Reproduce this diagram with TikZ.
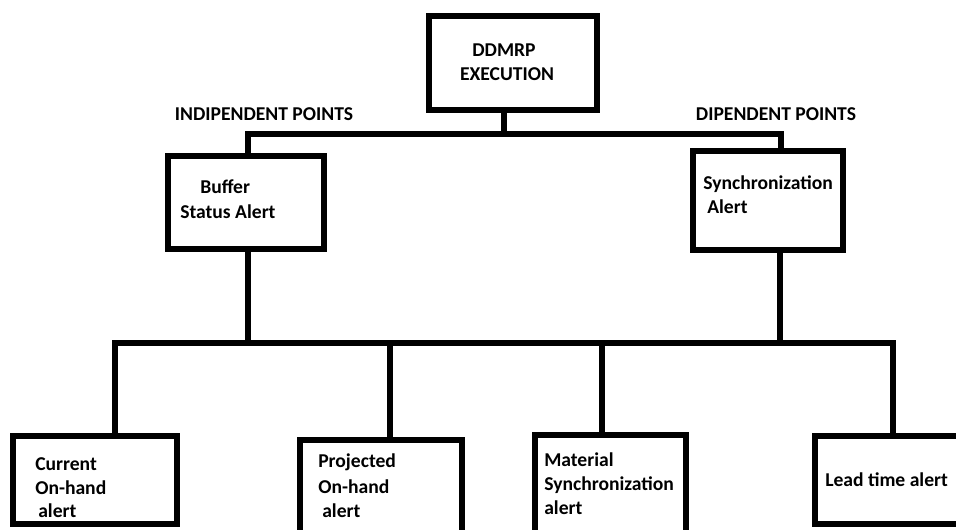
\documentclass[tikz,border=0pt]{standalone}
\usepackage{fontspec}
\setmainfont{Carlito}
\begin{document}
\begin{tikzpicture}[x=0.75pt,y=-0.75pt,
  box/.style={draw=black,line width=4.6pt,rectangle,inner sep=0pt,fill=none},
  wire/.style={draw=black,line width=4.6pt,line join=miter,line cap=rect},
  lbl/.style={inner sep=0pt,anchor=base west,font=\fontsize{14.7}{17}\selectfont\bfseries},
  clbl/.style={inner sep=0pt,anchor=base,font=\fontsize{14.7}{17}\selectfont\bfseries}]
\clip (0,0) rectangle (956,530);
\fill[white] (0,0) rectangle (956,530);
% boxes
\node[box,minimum width=168*0.75pt,minimum height=94*0.75pt] (top) at (513,63) {};
\node[box,minimum width=156*0.75pt,minimum height=93*0.75pt] (buffer) at (246,202.5) {};
\node[box,minimum width=150*0.75pt,minimum height=99*0.75pt] (sync) at (768,200.5) {};
\node[box,minimum width=164*0.75pt,minimum height=88*0.75pt] (cur) at (95,480) {};
\node[box,minimum width=162*0.75pt,minimum height=110*0.75pt] (proj) at (381,495) {};
\node[box,minimum width=151*0.75pt,minimum height=110*0.75pt] (mat) at (610.5,490) {};
\node[box,minimum width=175*0.75pt,minimum height=88*0.75pt] (lead) at (902.5,480) {};
% junctions
\coordinate (j0) at (504,134);
\coordinate (ul) at (248,134);
\coordinate (ur) at (781,134);
\coordinate (bl) at (115,343);
\coordinate (br) at (893,343);
\coordinate (s1) at (248,343);
\coordinate (s2) at (780,343);
\coordinate (d2) at (390,343);
\coordinate (d3) at (602,343);
% upper connectors
\draw[wire] (top.south -| j0) -- (j0);
\draw[wire] (buffer.north -| ul) -- (ul) -- (ur) -- (sync.north -| ur);
% lower connectors
\draw[wire] (buffer.south -| s1) -- (s1);
\draw[wire] (sync.south -| s2) -- (s2);
\draw[wire] (cur.north -| bl) -- (bl) -- (br) -- (lead.north -| br);
\draw[wire] (d2) -- (proj.north -| d2);
\draw[wire] (d3) -- (mat.north -| d3);
% texts
\node[clbl] (t1) at (504,57) {DDMRP};
\node[clbl] (t2) at (507,81) {EXECUTION};
\node[clbl] (t3) at (264,121) {INDIPENDENT POINTS};
\node[clbl] (t4) at (776,121) {DIPENDENT POINTS};
\node[lbl] (t5) at (200,194) {Buffer};
\node[lbl] (t6) at (180,219) {Status Alert};
\node[lbl] (t7) at (703,190) {Synchronization};
\node[lbl] (t8) at (707,214) {Alert};
\node[lbl] (t9) at (35,470) {Current};
\node[lbl] (t10) at (35,494) {On-hand};
\node[lbl] (t11) at (38,517) {alert};
\node[lbl] (t12) at (318,468) {Projected};
\node[lbl] (t13) at (318,493) {On-hand};
\node[lbl] (t14) at (322,517) {alert};
\node[lbl] (t15) at (544,466) {Material};
\node[lbl] (t16) at (544,490) {Synchronization};
\node[lbl] (t17) at (544,514) {alert};
\node[lbl] (t18) at (825,486) {Lead time alert};
\end{tikzpicture}
\end{document}
